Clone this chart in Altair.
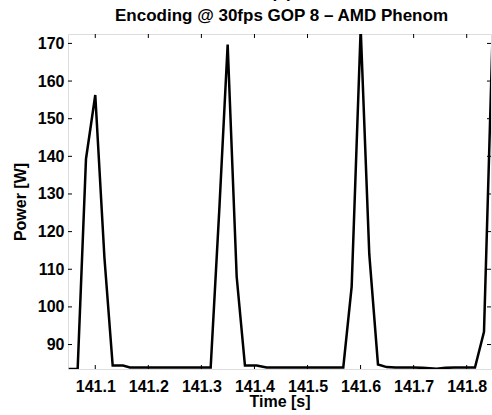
import altair as alt
import pandas as pd

# Time samples [s] and power [W]
time_s = [141.050, 141.0668, 141.0825, 141.100, 141.1173, 141.1328, 141.1522, 141.1654,
          141.183, 141.200, 141.217, 141.233, 141.250, 141.267, 141.284, 141.300,
          141.3175, 141.334, 141.3495, 141.3665, 141.3821, 141.4042, 141.423,
          141.440, 141.457, 141.474, 141.491, 141.508, 141.525, 141.542,
          141.5674, 141.5832, 141.6002, 141.6164, 141.6328, 141.6492,
          141.666, 141.683, 141.700, 141.717, 141.7434, 141.760, 141.777, 141.794,
          141.8156, 141.8326, 141.8495]
power_w = [83.5, 83.5, 139.3, 156.3, 113.0, 84.4, 84.4, 83.9,
           83.9, 83.9, 83.9, 83.9, 83.9, 83.9, 83.9, 83.9,
           83.9, 126.5, 169.7, 108.0, 84.4, 84.4, 83.9,
           83.9, 83.9, 83.9, 83.9, 83.9, 83.9, 83.9,
           83.9, 105.4, 174.0, 114.0, 84.7, 84.0,
           83.9, 83.9, 83.9, 83.8, 83.6, 83.8, 83.9, 83.9,
           83.9, 93.4, 176.0]

x_ticks = [141.1, 141.2, 141.3, 141.4, 141.5, 141.6, 141.7, 141.8]
y_ticks = [90, 100, 110, 120, 130, 140, 150, 160, 170]

x_domain = [141.0486, 141.8458]
y_domain = [83.5, 172.5]

W, H = 423, 335
FONT = "Liberation Sans"

df = pd.DataFrame({"t": time_s, "p": power_w})
xt = pd.DataFrame({"t": x_ticks})
yt = pd.DataFrame({"p": y_ticks})

xscale = alt.Scale(domain=x_domain, nice=False, zero=False)
yscale = alt.Scale(domain=y_domain, nice=False, zero=False)

xaxis = alt.Axis(values=x_ticks, format=".1f", title="Time [s]",
                 labelFont=FONT, labelFontSize=16, labelFontWeight="bold",
                 labelColor="black", labelPadding=9, labelOverlap=False,
                 labelFlush=False, ticks=False, domain=False, grid=False,
                 titleFont=FONT, titleFontSize=16, titleFontWeight="bold",
                 titleColor="black", titlePadding=-1)
yaxis = alt.Axis(values=y_ticks, format="d", title="Power [W]",
                 labelFont=FONT, labelFontSize=16, labelFontWeight="bold",
                 labelColor="black", labelPadding=4, labelOverlap=False,
                 labelFlush=False, ticks=False, domain=False, grid=False,
                 titleFont=FONT, titleFontSize=16, titleFontWeight="bold",
                 titleColor="black", titlePadding=9)

X = alt.X("t:Q", scale=xscale, axis=xaxis)
Y = alt.Y("p:Q", scale=yscale, axis=yaxis)

line = alt.Chart(df).mark_line(color="black", strokeWidth=2.5, clip=True).encode(x=X, y=Y)

tick_style = dict(color="black", strokeWidth=1)
bottom_ticks = alt.Chart(xt).mark_rule(**tick_style).encode(
    x=X, y=alt.value(H), y2=alt.value(H - 4))
top_ticks = alt.Chart(xt).mark_rule(**tick_style).encode(
    x=X, y=alt.value(0), y2=alt.value(4))
left_ticks = alt.Chart(yt).mark_rule(**tick_style).encode(
    y=Y, x=alt.value(0), x2=alt.value(4))
right_ticks = alt.Chart(yt).mark_rule(**tick_style).encode(
    y=Y, x=alt.value(W), x2=alt.value(W - 4))

chart = alt.layer(line, bottom_ticks, top_ticks, left_ticks, right_ticks).properties(
    width=W, height=H,
    title=alt.Title(["(b)", "Encoding @ 30fps GOP 8 \u2013 AMD Phenom"],
                    font=FONT, fontSize=17, fontWeight="bold", color="black",
                    anchor="middle", frame="group", baseline="bottom",
                    offset=10, lineHeight=22.5, dx=2, dy=18),
    autosize=alt.AutoSizeParams(type="none"),
    padding={"left": 68, "top": 34, "right": 1, "bottom": 46},
).configure_view(stroke="black", strokeWidth=1).configure(background="white")

chart.save("out.html", embed_options={"renderer": "svg", "actions": False})
